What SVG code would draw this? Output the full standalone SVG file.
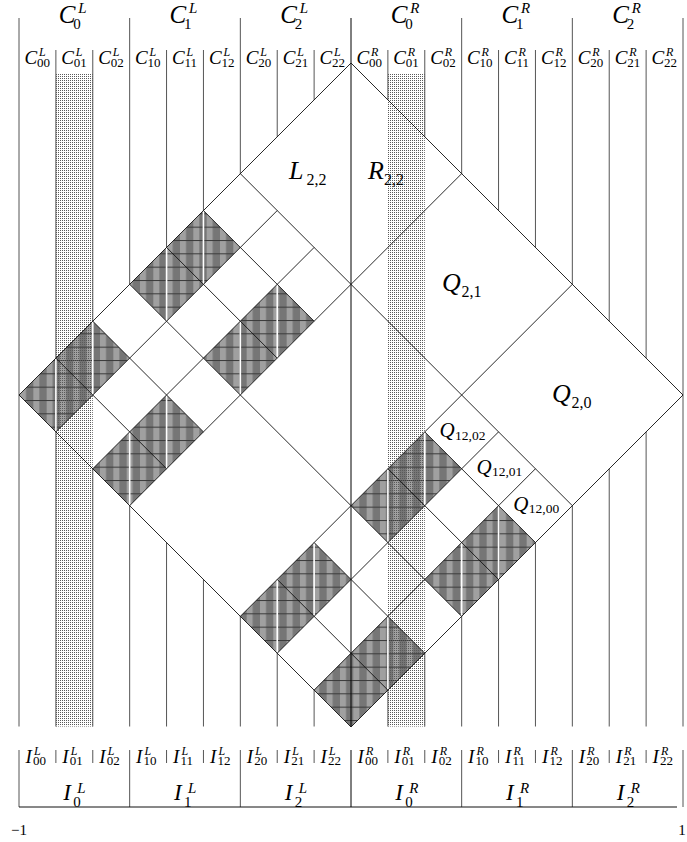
<svg xmlns="http://www.w3.org/2000/svg" width="687" height="842" viewBox="0 0 687 842">
<defs>
<pattern id="hatch" width="13.333" height="13.333" patternUnits="userSpaceOnUse">
<rect width="13.333" height="13.333" fill="#767676"/>
<rect x="6.667" width="6" height="13.333" fill="#a0a0a0"/>
<rect width="13.333" height="1" fill="#3a3a3a"/>
</pattern>
<pattern id="stip" width="2" height="2" patternUnits="userSpaceOnUse">
<rect width="1" height="1" fill="#5a5a5a"/>
</pattern>
</defs>
<style>
.mi{font-family:"Liberation Serif","DejaVu Serif",serif;font-style:italic;fill:#000}
.rm{font-family:"Liberation Serif","DejaVu Serif",serif;font-style:normal;fill:#000}
.col{stroke:#555;stroke-width:1;fill:none}
.grid{stroke:#111;stroke-width:0.9;fill:none}
.dark{fill:url(#hatch);stroke:none}
.wl{stroke:#fff;stroke-width:1.6}
.st{fill:url(#stip)}
</style>
<rect width="687" height="842" fill="#fff"/>

<g id="dark-cells">
<polygon class="dark" points="203.44,210.56 240.33,247.44 166.56,321.22 129.67,284.33"/>
<polygon class="dark" points="277.22,284.33 314.11,321.22 240.33,395 203.44,358.11"/>
<polygon class="dark" points="424.78,431.89 461.67,468.78 387.89,542.56 351,505.67"/>
<polygon class="dark" points="498.56,505.67 535.44,542.56 461.67,616.33 424.78,579.44"/>
<polygon class="dark" points="92.78,321.22 129.67,358.11 55.89,431.89 19,395"/>
<polygon class="dark" points="166.56,395 203.44,431.89 129.67,505.67 92.78,468.78"/>
<polygon class="dark" points="314.11,542.56 351,579.44 277.22,653.22 240.33,616.33"/>
<polygon class="dark" points="387.89,616.33 424.78,653.22 351,727 314.11,690.11"/>
</g>

<g id="shaded-columns">
<rect class="st" x="55.89" y="74" width="36.89" height="652.5"/>
<rect class="st" x="387.89" y="74" width="36.89" height="652.5"/>
</g>

<g id="white-lines">
<line class="wl" x1="203.44" y1="210.56" x2="203.44" y2="284.33"/>
<line class="wl" x1="166.56" y1="247.44" x2="166.56" y2="321.22"/>
<line class="wl" x1="277.22" y1="284.33" x2="277.22" y2="358.11"/>
<line class="wl" x1="240.33" y1="321.22" x2="240.33" y2="395"/>
<line class="wl" x1="424.78" y1="431.89" x2="424.78" y2="505.67"/>
<line class="wl" x1="387.89" y1="468.78" x2="387.89" y2="542.56"/>
<line class="wl" x1="498.56" y1="505.67" x2="498.56" y2="579.44"/>
<line class="wl" x1="461.67" y1="542.56" x2="461.67" y2="616.33"/>
<line class="wl" x1="92.78" y1="321.22" x2="92.78" y2="395"/>
<line class="wl" x1="55.89" y1="358.11" x2="55.89" y2="431.89"/>
<line class="wl" x1="166.56" y1="395" x2="166.56" y2="468.78"/>
<line class="wl" x1="129.67" y1="431.89" x2="129.67" y2="505.67"/>
<line class="wl" x1="314.11" y1="542.56" x2="314.11" y2="616.33"/>
<line class="wl" x1="277.22" y1="579.44" x2="277.22" y2="653.22"/>
<line class="wl" x1="387.89" y1="616.33" x2="387.89" y2="690.11"/>
</g>

<g id="column-lines">
<path class="col" d="M19,18V726.5 M683,18V726.5
M55.89,50V358.11 M55.89,431.89V726.5
M92.78,50V321.22 M92.78,468.78V726.5
M129.67,18V284.33 M129.67,505.67V726.5
M166.56,50V247.44 M166.56,542.56V726.5
M203.44,50V210.56 M203.44,579.44V726.5
M240.33,18V173.67 M240.33,616.33V726.5
M277.22,50V136.78 M277.22,653.22V726.5
M314.11,50V99.89 M314.11,690.11V726.5
M387.89,50V99.89 M387.89,690.11V726.5
M424.78,50V136.78 M424.78,653.22V726.5
M461.67,18V173.67 M461.67,616.33V726.5
M498.56,50V210.56 M498.56,579.44V726.5
M535.44,50V247.44 M535.44,542.56V726.5
M572.33,18V284.33 M572.33,505.67V726.5
M609.22,50V321.22 M609.22,468.78V726.5
M646.11,50V358.11 M646.11,431.89V726.5"/>
<path class="col" d="M19,750V807 M129.67,750V807 M240.33,750V807 M461.67,750V807 M572.33,750V807 M683,750V807
M55.89,750V763 M92.78,750V763 M166.56,750V763 M203.44,750V763 M277.22,750V763 M314.11,750V763
M387.89,750V763 M424.78,750V763 M498.56,750V763 M535.44,750V763 M609.22,750V763 M646.11,750V763"/>
<line x1="19" y1="807" x2="677" y2="807" stroke="#111" stroke-width="1"/>
<line x1="351" y1="18" x2="351" y2="726.5" stroke="#000" stroke-width="1"/>
<line x1="351" y1="750" x2="351" y2="807" stroke="#000" stroke-width="1"/>
</g>

<g id="connectors">
<polygon class="grid" points="351,63 683,395 351,727 19,395"/>
<path class="grid" d="M240.33,173.67L572.33,505.67 M129.67,284.33L461.67,616.33
M461.67,173.67L129.67,505.67 M572.33,284.33L240.33,616.33
M203.44,210.56L314.11,321.22 M424.78,431.89L535.44,542.56
M166.56,247.44L277.22,358.11 M387.89,468.78L498.56,579.44
M92.78,321.22L203.44,431.89 M314.11,542.56L424.78,653.22
M55.89,358.11L166.56,468.78 M277.22,579.44L387.89,690.11
M277.22,210.56L55.89,431.89 M314.11,247.44L92.78,468.78
M498.56,431.89L277.22,653.22 M535.44,468.78L314.11,690.11"/>
</g>

<g id="top-group-labels">
<text><tspan class="mi" x="58.83" y="22.5" font-size="25">C</tspan><tspan class="mi" x="78.33" y="13" font-size="15">L</tspan><tspan class="rm" x="73.33" y="29" font-size="15">0</tspan></text>
<text><tspan class="mi" x="169.5" y="22.5" font-size="25">C</tspan><tspan class="mi" x="189" y="13" font-size="15">L</tspan><tspan class="rm" x="184" y="29" font-size="15">1</tspan></text>
<text><tspan class="mi" x="280.17" y="22.5" font-size="25">C</tspan><tspan class="mi" x="299.67" y="13" font-size="15">L</tspan><tspan class="rm" x="294.67" y="29" font-size="15">2</tspan></text>
<text><tspan class="mi" x="390.83" y="22.5" font-size="25">C</tspan><tspan class="mi" x="410.33" y="13" font-size="15">R</tspan><tspan class="rm" x="405.33" y="29" font-size="15">0</tspan></text>
<text><tspan class="mi" x="501.5" y="22.5" font-size="25">C</tspan><tspan class="mi" x="521" y="13" font-size="15">R</tspan><tspan class="rm" x="516" y="29" font-size="15">1</tspan></text>
<text><tspan class="mi" x="612.17" y="22.5" font-size="25">C</tspan><tspan class="mi" x="631.67" y="13" font-size="15">R</tspan><tspan class="rm" x="626.67" y="29" font-size="15">2</tspan></text>
</g>

<g id="top-column-labels">
<text><tspan class="mi" x="24.44" y="64" font-size="19">C</tspan><tspan class="mi" x="38.94" y="55.5" font-size="12">L</tspan><tspan class="rm" x="36.94" y="66.5" font-size="13">00</tspan></text>
<text><tspan class="mi" x="61.33" y="64" font-size="19">C</tspan><tspan class="mi" x="75.83" y="55.5" font-size="12">L</tspan><tspan class="rm" x="73.83" y="66.5" font-size="13">01</tspan></text>
<text><tspan class="mi" x="98.22" y="64" font-size="19">C</tspan><tspan class="mi" x="112.72" y="55.5" font-size="12">L</tspan><tspan class="rm" x="110.72" y="66.5" font-size="13">02</tspan></text>
<text><tspan class="mi" x="135.11" y="64" font-size="19">C</tspan><tspan class="mi" x="149.61" y="55.5" font-size="12">L</tspan><tspan class="rm" x="147.61" y="66.5" font-size="13">10</tspan></text>
<text><tspan class="mi" x="172" y="64" font-size="19">C</tspan><tspan class="mi" x="186.5" y="55.5" font-size="12">L</tspan><tspan class="rm" x="184.5" y="66.5" font-size="13">11</tspan></text>
<text><tspan class="mi" x="208.89" y="64" font-size="19">C</tspan><tspan class="mi" x="223.39" y="55.5" font-size="12">L</tspan><tspan class="rm" x="221.39" y="66.5" font-size="13">12</tspan></text>
<text><tspan class="mi" x="245.78" y="64" font-size="19">C</tspan><tspan class="mi" x="260.28" y="55.5" font-size="12">L</tspan><tspan class="rm" x="258.28" y="66.5" font-size="13">20</tspan></text>
<text><tspan class="mi" x="282.67" y="64" font-size="19">C</tspan><tspan class="mi" x="297.17" y="55.5" font-size="12">L</tspan><tspan class="rm" x="295.17" y="66.5" font-size="13">21</tspan></text>
<text><tspan class="mi" x="319.56" y="64" font-size="19">C</tspan><tspan class="mi" x="334.06" y="55.5" font-size="12">L</tspan><tspan class="rm" x="332.06" y="66.5" font-size="13">22</tspan></text>
<text><tspan class="mi" x="356.44" y="64" font-size="19">C</tspan><tspan class="mi" x="370.94" y="55.5" font-size="12">R</tspan><tspan class="rm" x="368.94" y="66.5" font-size="13">00</tspan></text>
<text><tspan class="mi" x="393.33" y="64" font-size="19">C</tspan><tspan class="mi" x="407.83" y="55.5" font-size="12">R</tspan><tspan class="rm" x="405.83" y="66.5" font-size="13">01</tspan></text>
<text><tspan class="mi" x="430.22" y="64" font-size="19">C</tspan><tspan class="mi" x="444.72" y="55.5" font-size="12">R</tspan><tspan class="rm" x="442.72" y="66.5" font-size="13">02</tspan></text>
<text><tspan class="mi" x="467.11" y="64" font-size="19">C</tspan><tspan class="mi" x="481.61" y="55.5" font-size="12">R</tspan><tspan class="rm" x="479.61" y="66.5" font-size="13">10</tspan></text>
<text><tspan class="mi" x="504" y="64" font-size="19">C</tspan><tspan class="mi" x="518.5" y="55.5" font-size="12">R</tspan><tspan class="rm" x="516.5" y="66.5" font-size="13">11</tspan></text>
<text><tspan class="mi" x="540.89" y="64" font-size="19">C</tspan><tspan class="mi" x="555.39" y="55.5" font-size="12">R</tspan><tspan class="rm" x="553.39" y="66.5" font-size="13">12</tspan></text>
<text><tspan class="mi" x="577.78" y="64" font-size="19">C</tspan><tspan class="mi" x="592.28" y="55.5" font-size="12">R</tspan><tspan class="rm" x="590.28" y="66.5" font-size="13">20</tspan></text>
<text><tspan class="mi" x="614.67" y="64" font-size="19">C</tspan><tspan class="mi" x="629.17" y="55.5" font-size="12">R</tspan><tspan class="rm" x="627.17" y="66.5" font-size="13">21</tspan></text>
<text><tspan class="mi" x="651.56" y="64" font-size="19">C</tspan><tspan class="mi" x="666.06" y="55.5" font-size="12">R</tspan><tspan class="rm" x="664.06" y="66.5" font-size="13">22</tspan></text>
</g>

<g id="region-labels">
<text><tspan class="mi" x="289" y="179" font-size="26">L</tspan><tspan class="rm" x="306.5" y="184.5" font-size="16">2,2</tspan></text>
<text><tspan class="mi" x="368" y="179" font-size="26">R</tspan><tspan class="rm" x="384" y="184.5" font-size="16">2,2</tspan></text>
<text><tspan class="mi" x="442" y="291" font-size="26">Q</tspan><tspan class="rm" x="461.5" y="296.5" font-size="16">2,1</tspan></text>
<text><tspan class="mi" x="552" y="402" font-size="26">Q</tspan><tspan class="rm" x="571.5" y="407.5" font-size="16">2,0</tspan></text>
<text><tspan class="mi" x="439.5" y="437" font-size="21">Q</tspan><tspan class="rm" x="455" y="439.5" font-size="13.5">12,02</tspan></text>
<text><tspan class="mi" x="476.4" y="473.9" font-size="21">Q</tspan><tspan class="rm" x="491.9" y="476.4" font-size="13.5">12,01</tspan></text>
<text><tspan class="mi" x="513.3" y="510.8" font-size="21">Q</tspan><tspan class="rm" x="528.8" y="513.3" font-size="13.5">12,00</tspan></text>
</g>

<g id="bottom-column-labels">
<text><tspan class="mi" x="25.44" y="762.5" font-size="19">I</tspan><tspan class="mi" x="33.94" y="754.5" font-size="12">L</tspan><tspan class="rm" x="32.94" y="765" font-size="13">00</tspan></text>
<text><tspan class="mi" x="62.33" y="762.5" font-size="19">I</tspan><tspan class="mi" x="70.83" y="754.5" font-size="12">L</tspan><tspan class="rm" x="69.83" y="765" font-size="13">01</tspan></text>
<text><tspan class="mi" x="99.22" y="762.5" font-size="19">I</tspan><tspan class="mi" x="107.72" y="754.5" font-size="12">L</tspan><tspan class="rm" x="106.72" y="765" font-size="13">02</tspan></text>
<text><tspan class="mi" x="136.11" y="762.5" font-size="19">I</tspan><tspan class="mi" x="144.61" y="754.5" font-size="12">L</tspan><tspan class="rm" x="143.61" y="765" font-size="13">10</tspan></text>
<text><tspan class="mi" x="173" y="762.5" font-size="19">I</tspan><tspan class="mi" x="181.5" y="754.5" font-size="12">L</tspan><tspan class="rm" x="180.5" y="765" font-size="13">11</tspan></text>
<text><tspan class="mi" x="209.89" y="762.5" font-size="19">I</tspan><tspan class="mi" x="218.39" y="754.5" font-size="12">L</tspan><tspan class="rm" x="217.39" y="765" font-size="13">12</tspan></text>
<text><tspan class="mi" x="246.78" y="762.5" font-size="19">I</tspan><tspan class="mi" x="255.28" y="754.5" font-size="12">L</tspan><tspan class="rm" x="254.28" y="765" font-size="13">20</tspan></text>
<text><tspan class="mi" x="283.67" y="762.5" font-size="19">I</tspan><tspan class="mi" x="292.17" y="754.5" font-size="12">L</tspan><tspan class="rm" x="291.17" y="765" font-size="13">21</tspan></text>
<text><tspan class="mi" x="320.56" y="762.5" font-size="19">I</tspan><tspan class="mi" x="329.06" y="754.5" font-size="12">L</tspan><tspan class="rm" x="328.06" y="765" font-size="13">22</tspan></text>
<text><tspan class="mi" x="357.44" y="762.5" font-size="19">I</tspan><tspan class="mi" x="365.94" y="754.5" font-size="12">R</tspan><tspan class="rm" x="364.94" y="765" font-size="13">00</tspan></text>
<text><tspan class="mi" x="394.33" y="762.5" font-size="19">I</tspan><tspan class="mi" x="402.83" y="754.5" font-size="12">R</tspan><tspan class="rm" x="401.83" y="765" font-size="13">01</tspan></text>
<text><tspan class="mi" x="431.22" y="762.5" font-size="19">I</tspan><tspan class="mi" x="439.72" y="754.5" font-size="12">R</tspan><tspan class="rm" x="438.72" y="765" font-size="13">02</tspan></text>
<text><tspan class="mi" x="468.11" y="762.5" font-size="19">I</tspan><tspan class="mi" x="476.61" y="754.5" font-size="12">R</tspan><tspan class="rm" x="475.61" y="765" font-size="13">10</tspan></text>
<text><tspan class="mi" x="505" y="762.5" font-size="19">I</tspan><tspan class="mi" x="513.5" y="754.5" font-size="12">R</tspan><tspan class="rm" x="512.5" y="765" font-size="13">11</tspan></text>
<text><tspan class="mi" x="541.89" y="762.5" font-size="19">I</tspan><tspan class="mi" x="550.39" y="754.5" font-size="12">R</tspan><tspan class="rm" x="549.39" y="765" font-size="13">12</tspan></text>
<text><tspan class="mi" x="578.78" y="762.5" font-size="19">I</tspan><tspan class="mi" x="587.28" y="754.5" font-size="12">R</tspan><tspan class="rm" x="586.28" y="765" font-size="13">20</tspan></text>
<text><tspan class="mi" x="615.67" y="762.5" font-size="19">I</tspan><tspan class="mi" x="624.17" y="754.5" font-size="12">R</tspan><tspan class="rm" x="623.17" y="765" font-size="13">21</tspan></text>
<text><tspan class="mi" x="652.56" y="762.5" font-size="19">I</tspan><tspan class="mi" x="661.06" y="754.5" font-size="12">R</tspan><tspan class="rm" x="660.06" y="765" font-size="13">22</tspan></text>
</g>

<g id="bottom-group-labels">
<text><tspan class="mi" x="63.33" y="800" font-size="23">I</tspan><tspan class="mi" x="77.33" y="792.5" font-size="15">L</tspan><tspan class="rm" x="73.33" y="806.5" font-size="15">0</tspan></text>
<text><tspan class="mi" x="174" y="800" font-size="23">I</tspan><tspan class="mi" x="188" y="792.5" font-size="15">L</tspan><tspan class="rm" x="184" y="806.5" font-size="15">1</tspan></text>
<text><tspan class="mi" x="284.67" y="800" font-size="23">I</tspan><tspan class="mi" x="298.67" y="792.5" font-size="15">L</tspan><tspan class="rm" x="294.67" y="806.5" font-size="15">2</tspan></text>
<text><tspan class="mi" x="395.33" y="800" font-size="23">I</tspan><tspan class="mi" x="409.33" y="792.5" font-size="15">R</tspan><tspan class="rm" x="405.33" y="806.5" font-size="15">0</tspan></text>
<text><tspan class="mi" x="506" y="800" font-size="23">I</tspan><tspan class="mi" x="520" y="792.5" font-size="15">R</tspan><tspan class="rm" x="516" y="806.5" font-size="15">1</tspan></text>
<text><tspan class="mi" x="616.67" y="800" font-size="23">I</tspan><tspan class="mi" x="630.67" y="792.5" font-size="15">R</tspan><tspan class="rm" x="626.67" y="806.5" font-size="15">2</tspan></text>
</g>

<g id="axis-labels">
<text class="rm" x="19" y="835" font-size="15" text-anchor="middle">−1</text>
<text class="rm" x="682" y="835" font-size="15" text-anchor="middle">1</text>
</g>
</svg>
